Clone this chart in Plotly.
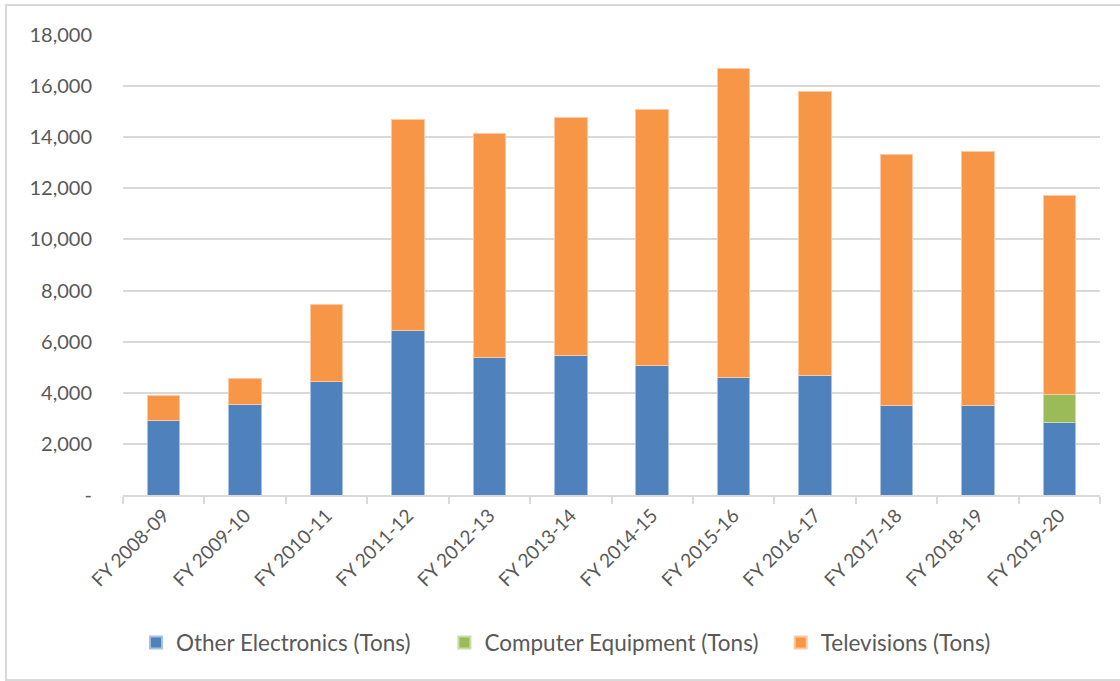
import plotly.graph_objects as go

categories = ["FY 2008-09", "FY 2009-10", "FY 2010-11", "FY 2011-12", "FY 2012-13",
              "FY 2013-14", "FY 2014-15", "FY 2015-16", "FY 2016-17", "FY 2017-18",
              "FY 2018-19", "FY 2019-20"]
other_electronics = [2900, 3560, 4460, 6420, 5400, 5470, 5060, 4600, 4660, 3500, 3500, 2840]
computer_equipment = [0, 0, 0, 0, 0, 0, 0, 0, 0, 0, 0, 1110]
televisions = [1000, 990, 3010, 8280, 8750, 9320, 10030, 12100, 11130, 9840, 9930, 7770]
series_names = ["Other Electronics (Tons)", "Computer Equipment (Tons)", "Televisions (Tons)"]

y_tickvals = [0, 2000, 4000, 6000, 8000, 10000, 12000, 14000, 16000, 18000]
y_ticktext = ["-", "2,000", "4,000", "6,000", "8,000", "10,000", "12,000", "14,000", "16,000", "18,000"]

FONT = "Lato, 'Open Sans', sans-serif"
TXT = "#595959"
NB = "\u00a0"  # extra spacing between legend entries

fig = go.Figure()
fig.add_trace(go.Bar(x=categories, y=other_electronics, name=series_names[0] + NB * 5,
                     hovertemplate="%{x}: %{y:,}<extra>" + series_names[0] + "</extra>",
                     marker=dict(color="#4f81bd", line=dict(color="#a9c1e0", width=1))))
fig.add_trace(go.Bar(x=categories, y=computer_equipment, name=series_names[1] + NB * 3,
                     hovertemplate="%{x}: %{y:,}<extra>" + series_names[1] + "</extra>",
                     marker=dict(color="#9bbb59", line=dict(color="#c9dca9", width=1))))
fig.add_trace(go.Bar(x=categories, y=televisions, name=series_names[2],
                     hovertemplate="%{x}: %{y:,}<extra>" + series_names[2] + "</extra>",
                     marker=dict(color="#f79646", line=dict(color="#fbc9a3", width=1))))

x0b, x1b, y0b, y1b = -0.1198, 1.2, -0.402, 1.065

fig.update_layout(
    barmode="stack",
    bargap=0.6,
    width=1120, height=681,
    margin=dict(l=123, r=20, t=35, b=186),
    paper_bgcolor="white",
    plot_bgcolor="white",
    font=dict(family=FONT, size=18, color=TXT),
    showlegend=True,
    legend=dict(orientation="h", x=0.4534, xanchor="center", y=-0.3217, yanchor="middle",
                font=dict(family=FONT, size=22.5, color=TXT), itemsizing="constant",
                traceorder="normal"),
    xaxis=dict(
        type="category",
        tickangle=-45,
        automargin=False,
        showline=True, linecolor="#d9d9d9", linewidth=2,
        ticks="outside", tickson="boundaries", ticklen=7, tickcolor="#d9d9d9", tickwidth=2,
        showgrid=False,
        tickfont=dict(family=FONT, size=19, color=TXT),
    ),
    yaxis=dict(
        range=[0, 18000],
        automargin=False,
        tickvals=y_tickvals, ticktext=y_ticktext,
        showgrid=True, gridcolor="#d9d9d9", gridwidth=2,
        zeroline=False, showline=False,
        ticks="outside", ticklen=26, tickcolor="rgba(0,0,0,0)",
        tickfont=dict(family=FONT, size=20, color=TXT),
    ),
    shapes=[dict(type="path", xref="paper", yref="paper",
                 path=f"M {x1b},{y1b} L {x0b},{y1b} L {x0b},{y0b} L {x1b},{y0b}",
                 line=dict(color="#d9d9d9", width=2), fillcolor="rgba(0,0,0,0)", layer="below")],
)

fig.write_html("out.html", config={"displayModeBar": False},
               post_script="document.body.style.margin='0';")
